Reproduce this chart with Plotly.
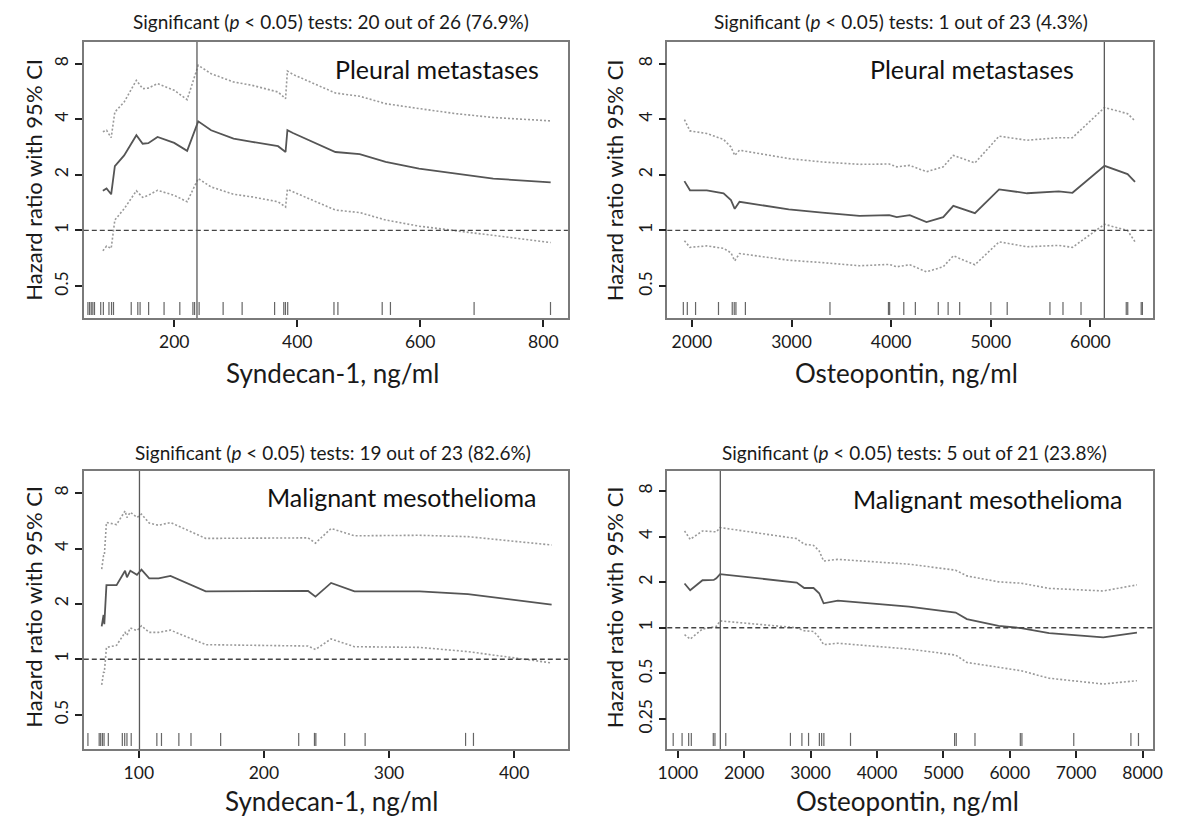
import plotly.graph_objects as go

W, H = 1184, 818
FONT = "Lato"
TXT = "#1a1a1a"

# ---------------- data ----------------
# Panel 1: Syndecan-1, pleural metastases
p1_x = [84, 90, 97.5, 103.5, 118.6, 138.5, 148.7, 157.8, 172.9, 200, 221, 239, 260, 296.5, 326.6, 368.8, 381, 384, 393, 462, 501.5, 543.7, 598, 658, 718.6, 812]
p1_hr = [1.64, 1.69, 1.57, 2.23, 2.55, 3.28, 2.95, 2.97, 3.21, 2.98, 2.70, 3.90, 3.49, 3.14, 3.02, 2.86, 2.66, 3.49, 3.37, 2.66, 2.59, 2.35, 2.16, 2.03, 1.91, 1.82]
p1_hi = [3.42, 3.49, 3.18, 4.38, 4.96, 6.5, 5.86, 5.9, 6.24, 5.74, 5.11, 7.84, 7.06, 6.37, 6.11, 5.62, 5.17, 7.3, 7.0, 5.55, 5.33, 4.86, 4.57, 4.29, 4.09, 3.92]
p1_lo = [0.776, 0.823, 0.80, 1.14, 1.31, 1.64, 1.51, 1.55, 1.65, 1.55, 1.43, 1.91, 1.72, 1.57, 1.52, 1.43, 1.34, 1.67, 1.62, 1.29, 1.25, 1.14, 1.055, 0.996, 0.944, 0.86]
p1_rug = [59.7, 62.4, 65.1, 67.7, 70.4, 80.5, 84.8, 93.9, 98.1, 101.3, 130.1, 140.8, 144.5, 158.4, 183.5, 209.1, 230.4, 233.1, 240.5, 279.5, 310.4, 363.2, 378.1, 380.8, 384.5, 459.7, 466.1, 538.1, 551.5, 687.5, 811.7]
p1_cut = 237

# Panel 2: Osteopontin, pleural metastases
p2_x = [1925, 1981, 2150, 2318, 2392, 2430, 2478, 2710, 2972, 3308, 3682, 3981, 4056, 4187, 4355, 4523, 4624, 4841, 5084, 5364, 5682, 5820, 6142, 6373, 6448]
p2_hr = [1.85, 1.65, 1.65, 1.59, 1.46, 1.31, 1.43, 1.37, 1.30, 1.25, 1.20, 1.21, 1.18, 1.21, 1.11, 1.18, 1.36, 1.24, 1.67, 1.59, 1.63, 1.60, 2.24, 2.02, 1.83]
p2_hi = [3.98, 3.46, 3.35, 3.11, 2.83, 2.55, 2.72, 2.59, 2.45, 2.35, 2.28, 2.29, 2.21, 2.25, 2.08, 2.21, 2.55, 2.32, 3.24, 3.08, 3.18, 3.18, 4.63, 4.29, 3.92]
p2_lo = [0.879, 0.81, 0.825, 0.80, 0.757, 0.685, 0.75, 0.72, 0.69, 0.67, 0.644, 0.655, 0.636, 0.652, 0.597, 0.636, 0.729, 0.652, 0.868, 0.816, 0.83, 0.81, 1.08, 1.0, 0.868]
p2_rug = [1914, 1954, 2037, 2267, 2405, 2425, 2442, 2537, 3386, 3973, 3985, 4127, 4243, 4473, 4572, 4688, 5001, 5165, 5594, 5725, 5906, 6360, 6375, 6510, 6522]
p2_cut = 6140

# Panel 3: Syndecan-1, malignant mesothelioma
p3_x = [70.3, 71.8, 72.4, 74.1, 82.2, 89, 90.5, 93.2, 98.5, 102.1, 108.3, 115.8, 125.3, 153.5, 235.3, 241.2, 253.7, 272.4, 324.5, 363.1, 430]
p3_hr = [1.51, 1.74, 1.55, 2.53, 2.53, 3.03, 2.79, 3.03, 2.88, 3.07, 2.75, 2.75, 2.84, 2.34, 2.35, 2.19, 2.60, 2.34, 2.34, 2.26, 1.98]
p3_hi = [3.09, 3.65, 3.65, 5.54, 5.4, 6.41, 5.9, 6.3, 5.9, 6.15, 5.5, 5.35, 5.54, 4.54, 4.57, 4.28, 5.14, 4.69, 4.72, 4.64, 4.18]
p3_lo = [0.725, 0.849, 0.849, 1.16, 1.19, 1.40, 1.35, 1.48, 1.43, 1.52, 1.40, 1.40, 1.44, 1.20, 1.18, 1.13, 1.29, 1.17, 1.16, 1.10, 0.955]
p3_rug = [59.3, 68.3, 69.5, 70.9, 72.2, 75.6, 86.8, 88.7, 90.5, 93.9, 114.4, 118.1, 132, 141.7, 165.4, 227.8, 240.4, 241.5, 264.6, 280.9, 361.2, 367.5]
p3_cut = 100.5

# Panel 4: Osteopontin, malignant mesothelioma
p4_x = [1101, 1186, 1372, 1541, 1580, 1636, 2791, 2904, 3044, 3129, 3196, 3410, 4481, 5185, 5354, 5832, 6170, 6593, 7409, 7916]
p4_hr = [1.96, 1.77, 2.06, 2.07, 2.12, 2.26, 1.99, 1.83, 1.83, 1.69, 1.45, 1.51, 1.38, 1.26, 1.14, 1.03, 0.995, 0.922, 0.863, 0.93]
p4_hi = [4.36, 3.84, 4.36, 4.30, 4.30, 4.59, 3.88, 3.56, 3.5, 3.22, 2.76, 2.83, 2.63, 2.40, 2.20, 2.01, 1.97, 1.82, 1.75, 1.92]
p4_lo = [0.90, 0.842, 0.98, 1.02, 1.02, 1.11, 1.0, 0.955, 0.945, 0.863, 0.773, 0.79, 0.723, 0.66, 0.59, 0.548, 0.52, 0.464, 0.425, 0.447]
p4_rug = [930, 1064, 1163, 1203, 1534, 1559, 1722, 2696, 2869, 2969, 3132, 3166, 3200, 3601, 5169, 5194, 5476, 6159, 6183, 6964, 7825, 7939]
p4_cut = 1640

titles = [
    "Significant (<i>p</i> &lt; 0.05) tests: 20 out of 26 (76.9%)",
    "Significant (<i>p</i> &lt; 0.05) tests: 1 out of 23 (4.3%)",
    "Significant (<i>p</i> &lt; 0.05) tests: 19 out of 23 (82.6%)",
    "Significant (<i>p</i> &lt; 0.05) tests: 5 out of 21 (23.8%)",
]
groups = ["Pleural metastases", "Pleural metastases", "Malignant mesothelioma", "Malignant mesothelioma"]
xlabels = ["Syndecan-1, ng/ml", "Osteopontin, ng/ml", "Syndecan-1, ng/ml", "Osteopontin, ng/ml"]
ylabel = "Hazard ratio with 95% CI"

x_ticks = [[200, 400, 600, 800], [2000, 3000, 4000, 5000, 6000], [100, 200, 300, 400],
           [1000, 2000, 3000, 4000, 5000, 6000, 7000, 8000]]
y_ticks = [[0.5, 1, 2, 4, 8], [0.5, 1, 2, 4, 8], [0.5, 1, 2, 4, 8], [0.25, 0.5, 1, 2, 4, 8]]

# ---------------- layout geometry (pixels) ----------------
panels = [
    dict(x=(75, 567), y=(42, 318), xr=[53, 840], yr=[-0.474, 1.0205]),
    dict(x=(668, 1162), y=(42, 318), xr=[1753, 6632], yr=[-0.474, 1.0205]),
    dict(x=(75, 567), y=(471, 749), xr=[56, 443], yr=[-0.488, 1.0235]),
    dict(x=(668, 1162), y=(471, 749), xr=[841, 8163], yr=[-0.801, 1.0355]),
]
title_pos = [(326, 21), (906, 21), (328, 452), (919, 452)]
xlab_pos = [(328, 373), (911, 373), (327, 801), (912, 801)]
ylab_pos = [(23, 180), (614, 180), (23, 607), (614, 607)]
grp_pos = [(540, 69), (1083, 69), (537, 497), (1132, 499)]

series = [
    (p1_x, p1_hr, p1_hi, p1_lo, p1_rug, p1_cut),
    (p2_x, p2_hr, p2_hi, p2_lo, p2_rug, p2_cut),
    (p3_x, p3_hr, p3_hi, p3_lo, p3_rug, p3_cut),
    (p4_x, p4_hr, p4_hi, p4_lo, p4_rug, p4_cut),
]

fig = go.Figure()
shapes = []
annotations = []

def px(x):
    return x / W

def py(y):
    return 1 - y / H

for i, (pan, ser) in enumerate(zip(panels, series)):
    n = "" if i == 0 else str(i + 1)
    xa, ya = "x" + n, "y" + n
    xs, hr, hi, lo, rug, cut = ser
    for yy, dash, col, wd in [(hi, "2px,2px", "#9a9a9a", 1.6), (lo, "2px,2px", "#9a9a9a", 1.6),
                               (hr, "solid", "#555555", 1.8)]:
        fig.add_trace(go.Scatter(x=xs, y=yy, mode="lines", xaxis=xa, yaxis=ya,
                                 line=dict(color=col, width=wd, dash=dash),
                                 showlegend=False, hoverinfo="skip"))
    # reference line HR = 1
    shapes.append(dict(type="line", xref=xa + " domain", yref=ya, x0=0, x1=1, y0=1, y1=1,
                       line=dict(color="#444444", width=1.3, dash="5px,3px")))
    # optimal cutpoint
    shapes.append(dict(type="line", xref=xa, yref=ya + " domain", x0=cut, x1=cut, y0=0, y1=1,
                       line=dict(color="#5a5a5a", width=1.3)))
    # rug
    for r in rug:
        shapes.append(dict(type="line", xref=xa, yref=ya + " domain", x0=r, x1=r, y0=0.011, y1=0.058,
                           line=dict(color="#666666", width=1.2)))

    axcommon = dict(showline=True, mirror=True, linecolor="#7a7a7a", linewidth=1.5,
                    ticks="outside", ticklen=7, tickwidth=1.5, tickcolor="#222222",
                    showgrid=False, zeroline=False,
                    tickfont=dict(family=FONT, size=17.5, color=TXT))
    fig.layout["xaxis" + n] = dict(domain=[px(pan["x"][0]), px(pan["x"][1])], range=pan["xr"],
                                   anchor=ya, tickmode="array", tickvals=x_ticks[i],
                                   ticktext=[str(t) for t in x_ticks[i]], **axcommon)
    fig.layout["yaxis" + n] = dict(domain=[py(pan["y"][1]), py(pan["y"][0])], range=pan["yr"],
                                   type="log", anchor=xa, tickmode="array", tickvals=y_ticks[i],
                                   ticktext=[("%g" % t) for t in y_ticks[i]], tickangle=-90,
                                   **axcommon)

    tx, ty = title_pos[i]
    annotations.append(dict(text=titles[i], x=px(tx), y=py(ty), xref="paper", yref="paper",
                            showarrow=False, xanchor="center", yanchor="middle",
                            font=dict(family=FONT, size=19, color=TXT)))
    lx, ly = xlab_pos[i]
    annotations.append(dict(text=xlabels[i], x=px(lx), y=py(ly), xref="paper", yref="paper",
                            showarrow=False, xanchor="center", yanchor="middle",
                            font=dict(family=FONT, size=26, color=TXT)))
    yx, yy_ = ylab_pos[i]
    annotations.append(dict(text=ylabel, x=px(yx), y=py(yy_), xref="paper", yref="paper",
                            showarrow=False, xanchor="center", yanchor="middle", textangle=-90,
                            font=dict(family=FONT, size=22, color=TXT)))
    gx, gy = grp_pos[i]
    annotations.append(dict(text=groups[i], x=px(gx), y=py(gy), xref="paper", yref="paper",
                            showarrow=False, xanchor="right", yanchor="middle",
                            font=dict(family=FONT, size=25, color="#111111")))

fig.update_layout(width=W, height=H, margin=dict(l=0, r=0, t=0, b=0),
                  paper_bgcolor="white", plot_bgcolor="white",
                  shapes=shapes, annotations=annotations, showlegend=False)

fig.write_html("out.html")
